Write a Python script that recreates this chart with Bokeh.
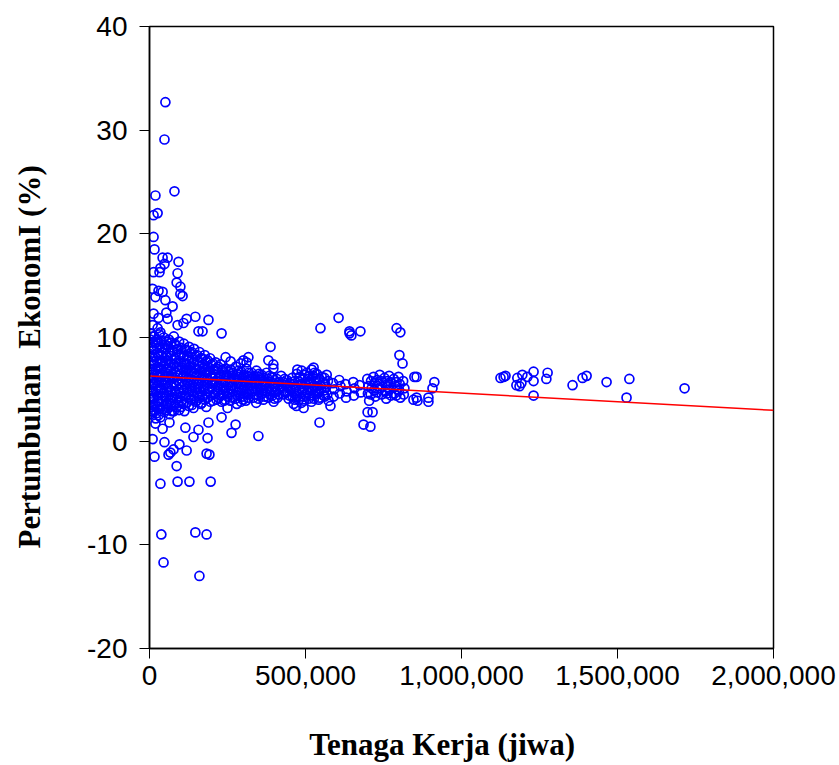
from bokeh.plotting import figure
from bokeh.models import Range1d, SingleIntervalTicker, NumeralTickFormatter
from bokeh.embed import file_html
from bokeh.resources import INLINE

# ---- data: (tenaga kerja [jiwa], pertumbuhan ekonomi [%]) ----
pencilan_atas = [
    (51000, 32.7), (48000, 29.1), (80000, 24.1), (19000, 23.7), (13000, 21.8), (26000, 22.0),
    (13000, 19.7), (16000, 18.5), (42000, 17.7), (58000, 17.7), (93000, 17.3), (48000, 17.1),
    (35000, 16.7), (32000, 16.3), (13000, 16.3), (90000, 16.2), (87000, 15.3), (99000, 14.9),
    (99000, 14.2), (106000, 14.0), (10000, 14.7), (29000, 14.5), (42000, 14.4), (19000, 13.9),
    (51000, 13.6), (74000, 13.0), (54000, 12.4), (13000, 12.3), (29000, 11.9), (58000, 11.8),
    (147000, 12.0), (189000, 11.7), (119000, 11.8), (109000, 11.4), (90000, 11.2), (157000, 10.6),
    (170000, 10.6), (231000, 10.4), (10000, 11.2), (26000, 10.9), (35000, 10.5), (548000, 10.9),
    (606000, 11.9), (641000, 10.6), (647000, 10.2), (641000, 10.4), (676000, 10.6), (792000, 10.9),
    (804000, 10.5), (801000, 8.3), (811000, 7.5), (388000, 9.1), (381000, 7.8), (397000, 7.4),
    (397000, 7.0), (317000, 8.1), (301000, 7.8), (292000, 7.5), (311000, 7.6), (244000, 8.1),
    (260000, 7.7), (474000, 6.9), (526000, 7.1),
]

pencilan_kanan = [
    (913000, 5.7), (907000, 5.1), (849000, 6.2), (856000, 6.2), (856000, 4.2), (859000, 3.9),
    (894000, 4.2), (894000, 3.8), (846000, 4.0), (1125000, 6.1), (1135000, 6.2), (1141000, 6.3),
    (1179000, 6.1), (1176000, 5.4), (1186000, 5.3), (1192000, 5.6), (1195000, 6.4), (1211000, 6.2),
    (1231000, 6.7), (1231000, 5.8), (1231000, 4.4), (1276000, 6.6), (1272000, 6.0), (1356000, 5.4),
    (1388000, 6.1), (1401000, 6.3), (1465000, 5.7), (1538000, 6.0), (1529000, 4.2), (1715000, 5.1),
]

pencilan_bawah = [
    (545000, 1.8), (699000, 2.8), (715000, 2.8), (686000, 1.6), (708000, 1.4), (580000, 3.4),
    (494000, 3.2), (349000, 0.5), (263000, 0.8), (276000, 1.6), (250000, 3.2), (231000, 2.3),
    (189000, 1.8), (157000, 1.1), (186000, 0.3), (141000, 0.4), (115000, 1.3), (64000, 1.8),
    (35000, 2.3), (13000, 2.8), (19000, 1.7), (42000, 1.2), (10000, 0.2), (48000, -0.1),
    (96000, -0.3), (16000, -1.5), (61000, -1.3), (67000, -1.1), (77000, -0.8), (119000, -0.9),
    (183000, -1.2), (192000, -1.3), (87000, -2.4), (35000, -4.1), (90000, -3.9), (128000, -3.9),
    (196000, -3.9), (38000, -9.0), (147000, -8.8), (183000, -9.0), (45000, -11.7), (160000, -13.0),
]

klaster_utama = [
    (3000, 9.8), (6000, 9.1), (2000, 8.4), (7000, 7.7), (4000, 7.0), (8000, 6.4), (2000, 5.8),
    (5000, 5.2), (7000, 4.6), (3000, 4.0), (6000, 3.3), (4000, 2.6), (5000, 10.4),
    (16000, 10.1), (19000, 9.5), (14000, 8.8), (18000, 8.1), (15000, 7.4), (20000, 6.8), (13000, 6.1),
    (17000, 5.5), (21000, 4.9), (15000, 4.2), (18000, 3.6), (14000, 3.0), (20000, 2.2),
    (31000, 10.3), (27000, 9.6), (33000, 9.0), (29000, 8.3), (34000, 7.6), (28000, 7.0), (32000, 6.3),
    (30000, 5.7), (35000, 5.0), (27000, 4.4), (31000, 3.8), (33000, 3.1), (29000, 2.5),
    (46000, 10.0), (50000, 9.3), (43000, 8.6), (48000, 8.0), (45000, 7.3), (51000, 6.6), (44000, 6.0),
    (49000, 5.4), (46000, 4.7), (52000, 4.1), (44000, 3.4), (48000, 2.8),
    (62000, 9.8), (58000, 9.2), (65000, 8.5), (60000, 7.8), (66000, 7.1), (61000, 6.5), (64000, 5.9),
    (59000, 5.2), (63000, 4.5), (67000, 3.9), (60000, 3.2), (65000, 2.6),
    (78000, 10.1), (81000, 9.4), (75000, 8.7), (80000, 8.0), (77000, 7.4), (83000, 6.7), (76000, 6.1),
    (79000, 5.5), (82000, 4.8), (75000, 4.2), (80000, 3.5), (78000, 2.9),
    (95000, 9.6), (91000, 8.9), (97000, 8.3), (93000, 7.6), (98000, 6.9), (92000, 6.3), (96000, 5.6),
    (94000, 5.0), (99000, 4.3), (91000, 3.7), (95000, 3.0),
    (110000, 9.4), (114000, 8.8), (108000, 8.1), (112000, 7.4), (116000, 6.8), (109000, 6.2),
    (113000, 5.5), (111000, 4.9), (115000, 4.3), (108000, 3.6), (112000, 2.9),
    (127000, 9.1), (131000, 8.5), (125000, 7.9), (129000, 7.2), (133000, 6.6), (126000, 5.9),
    (130000, 5.3), (128000, 4.7), (132000, 4.0), (126000, 3.4),
    (143000, 8.9), (147000, 8.2), (141000, 7.6), (145000, 7.0), (149000, 6.3), (142000, 5.7),
    (146000, 5.1), (144000, 4.4), (148000, 3.8), (141000, 3.2),
    (160000, 8.6), (164000, 8.0), (158000, 7.3), (162000, 6.7), (166000, 6.1), (159000, 5.5),
    (163000, 4.8), (161000, 4.2), (165000, 3.6),
    (177000, 8.3), (181000, 7.7), (175000, 7.1), (179000, 6.5), (183000, 5.9), (176000, 5.2),
    (180000, 4.6), (178000, 4.0), (182000, 3.3),
    (194000, 8.0), (198000, 7.4), (192000, 6.8), (196000, 6.2), (200000, 5.6), (193000, 5.0),
    (197000, 4.4), (195000, 3.8),
    (212000, 7.6), (216000, 7.0), (210000, 6.4), (214000, 5.8), (218000, 5.2), (211000, 4.6), (215000, 4.0),
    (228000, 7.4), (232000, 6.8), (226000, 6.2), (230000, 5.6), (234000, 5.0), (227000, 4.4), (231000, 3.8),
    (244000, 7.0), (248000, 6.4), (242000, 5.8), (246000, 5.2), (250000, 4.6), (243000, 4.0),
    (260000, 6.9), (264000, 6.3), (258000, 5.7), (262000, 5.1), (266000, 4.5), (259000, 3.9),
    (277000, 7.2), (281000, 6.5), (275000, 5.9), (279000, 5.3), (283000, 4.7), (276000, 4.1), (280000, 3.6),
    (294000, 6.7), (298000, 6.1), (292000, 5.5), (296000, 4.9), (300000, 4.3), (293000, 3.8),
    (310000, 7.0), (314000, 6.3), (308000, 5.7), (312000, 5.1), (316000, 4.5), (309000, 3.9),
    (327000, 6.6), (331000, 6.0), (325000, 5.4), (329000, 4.8), (333000, 4.2),
    (343000, 6.8), (347000, 6.2), (341000, 5.6), (345000, 5.0), (349000, 4.4), (342000, 3.7),
    (359000, 6.4), (363000, 5.8), (357000, 5.2), (361000, 4.6), (365000, 4.0),
    (375000, 6.6), (379000, 6.0), (373000, 5.4), (377000, 4.8), (381000, 4.2),
    (392000, 6.2), (396000, 5.6), (390000, 5.0), (394000, 4.4), (398000, 3.8),
    (408000, 6.0), (412000, 5.4), (406000, 4.8), (410000, 4.2),
    (422000, 6.3), (428000, 5.7), (424000, 5.1), (430000, 4.5),
    (440000, 5.9), (444000, 5.3), (438000, 4.7), (446000, 4.1),
    (457000, 6.1), (461000, 5.5), (455000, 4.9), (459000, 4.3), (462000, 3.6),
    (472000, 6.5), (476000, 5.8), (470000, 5.2), (474000, 4.6), (478000, 4.0), (471000, 3.4),
    (488000, 6.8), (492000, 6.1), (486000, 5.5), (490000, 4.9), (494000, 4.3), (487000, 3.7),
    (504000, 6.6), (508000, 6.0), (502000, 5.4), (506000, 4.7), (510000, 4.1),
    (520000, 6.9), (524000, 6.3), (518000, 5.6), (522000, 5.0), (526000, 4.4), (519000, 3.8),
    (536000, 6.5), (540000, 5.9), (534000, 5.3), (538000, 4.6), (542000, 4.0),
    (552000, 6.2), (556000, 5.6), (550000, 5.0), (558000, 4.4),
    (568000, 6.4), (572000, 5.8), (566000, 5.2), (570000, 4.5), (574000, 3.9),
    (588000, 5.6), (592000, 5.0), (590000, 4.3),
    (608000, 5.9), (612000, 5.3), (610000, 4.6),
    (628000, 5.5), (632000, 4.8), (630000, 4.2),
    (653000, 5.7), (657000, 5.1), (655000, 4.4),
    (673000, 5.4), (677000, 4.7),
    (698000, 6.0), (702000, 5.3), (700000, 4.6), (704000, 3.9),
    (718000, 6.2), (722000, 5.6), (720000, 4.9), (724000, 4.3),
    (738000, 6.4), (742000, 5.8), (740000, 5.1), (744000, 4.5),
    (753000, 6.1), (757000, 5.4), (755000, 4.8), (759000, 4.1),
    (768000, 6.3), (772000, 5.7), (770000, 5.0), (774000, 4.4),
    (783000, 6.0), (787000, 5.3), (785000, 4.6),
    (798000, 6.2), (802000, 5.5), (800000, 4.9), (804000, 4.2),
    (813000, 5.8), (817000, 5.1), (815000, 4.5),
]

klaster_sisipan = [
    (10000, 9.5), (12000, 8.8), (9000, 8.1), (11000, 7.4), (8000, 6.7), (12000, 6.1), (10000, 5.5),
    (9000, 4.8), (11000, 4.2), (10000, 3.5), (8000, 2.9), (11000, 10.1),
    (24000, 9.8), (22000, 9.2), (25000, 8.5), (23000, 7.8), (26000, 7.2), (24000, 6.5), (22000, 5.9),
    (25000, 5.2), (23000, 4.6), (26000, 3.9), (24000, 3.3), (22000, 2.7),
    (39000, 9.7), (41000, 9.0), (38000, 8.3), (40000, 7.7), (37000, 7.0), (41000, 6.4), (39000, 5.7),
    (38000, 5.1), (40000, 4.4), (39000, 3.8), (41000, 3.1),
    (55000, 9.6), (53000, 8.9), (56000, 8.2), (54000, 7.5), (57000, 6.9), (55000, 6.2), (53000, 5.6),
    (56000, 4.9), (54000, 4.3), (57000, 3.6), (55000, 3.0),
    (70000, 9.5), (72000, 8.8), (69000, 8.2), (71000, 7.5), (68000, 6.8), (72000, 6.2), (70000, 5.5),
    (69000, 4.9), (71000, 4.2), (70000, 3.6), (72000, 2.9),
    (86000, 9.2), (88000, 8.6), (85000, 7.9), (87000, 7.2), (84000, 6.6), (88000, 5.9), (86000, 5.3),
    (85000, 4.6), (87000, 4.0), (86000, 3.3),
    (102000, 9.0), (104000, 8.4), (101000, 7.7), (103000, 7.1), (100000, 6.5), (104000, 5.8),
    (102000, 5.2), (101000, 4.6), (103000, 3.9), (102000, 3.3),
    (119000, 8.8), (121000, 8.2), (118000, 7.5), (120000, 6.9), (117000, 6.3), (121000, 5.6),
    (119000, 5.0), (118000, 4.4), (120000, 3.7),
    (135000, 8.6), (137000, 7.9), (134000, 7.3), (136000, 6.7), (133000, 6.0), (137000, 5.4),
    (135000, 4.8), (134000, 4.1), (136000, 3.5),
    (152000, 8.3), (154000, 7.7), (151000, 7.0), (153000, 6.4), (150000, 5.8), (154000, 5.2),
    (152000, 4.5), (151000, 3.9),
    (169000, 8.0), (171000, 7.4), (168000, 6.8), (170000, 6.2), (167000, 5.6), (171000, 5.0),
    (169000, 4.3), (168000, 3.7),
    (186000, 7.8), (188000, 7.2), (185000, 6.6), (187000, 6.0), (184000, 5.4), (188000, 4.8), (186000, 4.2),
    (203000, 7.5), (205000, 6.9), (202000, 6.3), (204000, 5.7), (201000, 5.1), (205000, 4.5), (203000, 3.9),
    (220000, 7.2), (222000, 6.6), (219000, 6.0), (221000, 5.4), (218000, 4.8), (222000, 4.2),
    (237000, 6.9), (239000, 6.3), (236000, 5.7), (238000, 5.1), (235000, 4.5), (239000, 3.9),
    (252000, 6.7), (254000, 6.1), (251000, 5.5), (253000, 4.9), (250000, 4.3),
    (268000, 6.6), (270000, 6.0), (267000, 5.4), (269000, 4.8), (266000, 4.2),
    (285000, 6.8), (287000, 6.2), (284000, 5.6), (286000, 5.0), (283000, 4.4),
    (302000, 6.4), (304000, 5.8), (301000, 5.2), (303000, 4.6), (300000, 4.0),
    (318000, 6.6), (320000, 6.0), (317000, 5.4), (319000, 4.8), (316000, 4.2),
    (335000, 6.3), (337000, 5.7), (334000, 5.1), (336000, 4.5),
    (351000, 6.5), (353000, 5.9), (350000, 5.3), (352000, 4.7), (349000, 4.1),
    (367000, 6.1), (369000, 5.5), (366000, 4.9), (368000, 4.3),
    (384000, 6.3), (386000, 5.7), (383000, 5.1), (385000, 4.5),
    (400000, 5.9), (402000, 5.3), (399000, 4.7), (401000, 4.1),
    (416000, 5.7), (418000, 5.1), (415000, 4.5),
    (433000, 6.0), (435000, 5.4), (432000, 4.8),
    (449000, 5.6), (451000, 5.0), (448000, 4.4),
    (465000, 5.8), (467000, 5.2), (464000, 4.6), (466000, 4.0),
    (481000, 6.2), (483000, 5.5), (480000, 4.9), (482000, 4.3),
    (497000, 6.4), (499000, 5.7), (496000, 5.1), (498000, 4.5), (495000, 3.9),
    (513000, 6.3), (515000, 5.7), (512000, 5.0), (514000, 4.4),
    (529000, 6.6), (531000, 6.0), (528000, 5.3), (530000, 4.7), (527000, 4.1),
    (545000, 6.0), (547000, 5.4), (544000, 4.8), (546000, 4.2),
    (561000, 6.1), (563000, 5.5), (560000, 4.9), (562000, 4.3),
    (710000, 5.8), (712000, 5.1), (709000, 4.5),
    (730000, 5.9), (732000, 5.3), (729000, 4.7),
    (762000, 5.8), (764000, 5.2), (761000, 4.6),
    (792000, 5.7), (794000, 5.0), (791000, 4.4),
]

# fitted regression line (end points)
garis_x = [0, 2000000]
garis_y = [6.28, 2.98]

x_ticks_interval = 500000
y_ticks_interval = 10

judul_x = "Tenaga Kerja (jiwa)"
judul_y = "Pertumbuhan \u00a0EkonomI (%)"

semua = klaster_utama + klaster_sisipan + pencilan_atas + pencilan_kanan + pencilan_bawah
tenaga_kerja = [t[0] for t in semua]
pertumbuhan = [t[1] for t in semua]

p = figure(
    width=838, height=764,
    x_range=Range1d(0, 2000000), y_range=Range1d(-20, 40),
    output_backend="svg", toolbar_location=None,
    min_border_left=149, min_border_right=65, min_border_top=26, min_border_bottom=115,
    background_fill_color="white", border_fill_color="white",
)
p.outline_line_color = "black"
p.outline_line_width = 1.5
p.grid.visible = False

p.scatter(tenaga_kerja, pertumbuhan, marker="circle", size=9,
          fill_color=None, line_color="#0000ff", line_width=1.7)
p.line(garis_x, garis_y, line_color="#ff0000", line_width=1.5)

for ax in (p.xaxis[0], p.yaxis[0]):
    ax.axis_line_color = "black"
    ax.axis_line_width = 1.5
    ax.major_tick_line_color = "black"
    ax.major_tick_line_width = 1
    ax.major_tick_in = 0
    ax.major_tick_out = 10
    ax.minor_tick_line_color = None
    ax.major_label_text_font = "Liberation Sans"
    ax.major_label_text_font_size = "28px"
    ax.major_label_text_color = "black"
    ax.axis_label_text_font = "Liberation Serif"
    ax.axis_label_text_font_style = "bold"
    ax.axis_label_text_font_size = "31px"
    ax.axis_label_text_color = "black"

p.xaxis.ticker = SingleIntervalTicker(interval=x_ticks_interval)
p.yaxis.ticker = SingleIntervalTicker(interval=y_ticks_interval)
p.xaxis.formatter = NumeralTickFormatter(format="0,0")
p.yaxis.formatter = NumeralTickFormatter(format="0")
p.xaxis.major_label_standoff = 7
p.yaxis.major_label_standoff = 12

# trailing no-break spaces shift the centred titles towards the lower-left, as in the original
p.xaxis.axis_label = judul_x + "\u00a0" * 5
p.yaxis.axis_label = judul_y + "\u00a0" * 5
p.xaxis.axis_label_standoff = 39
p.yaxis.axis_label_standoff = 37

open("out.html", "w").write(file_html(p, INLINE))
